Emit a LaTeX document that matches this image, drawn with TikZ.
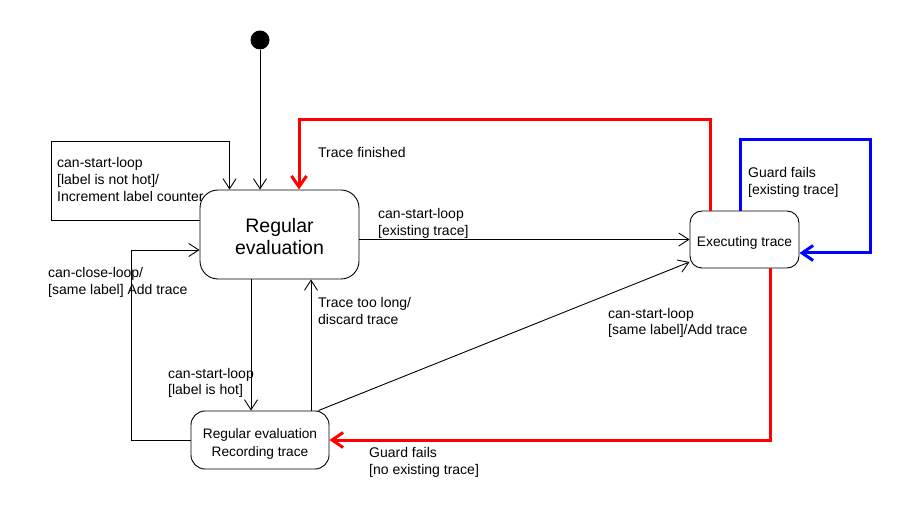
\documentclass[tikz,border=0pt]{standalone}
\usepackage{fontspec}
\setmainfont{Liberation Sans}
\usetikzlibrary{arrows.meta}
\begin{document}
\begin{tikzpicture}[x=1pt,y=-1pt,
  lbl/.style={anchor=base west, align=left, inner sep=0pt, font=\fontsize{14}{17}\selectfont},
  statebox/.style={draw, fill=white, line width=0.9pt, inner sep=0pt, align=center},
  tr/.style={line width=0.9pt, -{Straight Barb[length=10pt,width=13pt,line width=0.9pt]}},
  redtr/.style={draw=red, line width=3pt, -{Straight Barb[length=11pt,width=15pt,line width=3pt]}},
  bluetr/.style={draw=blue, line width=3pt, -{Straight Barb[length=11pt,width=15pt,line width=3pt]}}]
\useasboundingbox[fill=white] (0,0) rectangle (910,510);

% labels (positions give the baseline of the last line)
\node[lbl] (l1) at (57,202) {can-start-loop\\{[label is not hot]/}\\Increment label counter};
\node[lbl] (l2) at (318,158) {Trace finished};
\node[lbl] (l3) at (378,236) {can-start-loop\\{[existing trace]}};
\node[lbl] (l4) at (748,195) {Guard fails\\{[existing trace]}};
\node[lbl] (l5) at (48,295) {can-close-loop/\\{[same label] Add trace}};
\node[lbl] (l6) at (318,325) {Trace too long/\\discard trace};
\node[lbl] (l7) at (168,395) {can-start-loop\\{[label is hot]}};
\node[lbl] (l8) at (608,335) {can-start-loop\\{[same label]/Add trace}};
\node[lbl] (l9) at (369,474) {Guard fails\\{[no existing trace]}};

% states
\node[circle, fill=black, minimum size=19pt, inner sep=0pt] (init) at (260,40) {};
\node[statebox, rounded corners=18pt, minimum width=159pt, minimum height=89pt,
      font=\fontsize{19.5}{22}\selectfont] (regev) at (279.5,234.5) {\rule{0pt}{19pt}Regular\\evaluation};
\node[statebox, rounded corners=12pt, minimum width=109pt, minimum height=57pt,
      text height=18pt, text depth=3pt,
      font=\fontsize{13.8}{17}\selectfont] (exec) at (744.5,239.5) {Executing trace};
\node[statebox, rounded corners=14pt, minimum width=138pt, minimum height=58pt,
      font=\fontsize{13.7}{18}\selectfont] (rec) at (260,440) {\rule{0pt}{18pt}Regular evaluation\\Recording trace};

% transitions
\draw[tr] (init) -- (init |- regev.north);
\draw[tr] (regev.west |- 0,220) -- (51,220) -- (51,141) -| ([xshift=30pt]regev.north west);
\draw[tr] (regev.east |- exec.west) -- (exec.west);
\draw[tr] (regev.south -| 251,0) -- (rec.north -| 251,0);
\draw[tr] (rec.north -| 311,0) -- (regev.south -| 311,0);
\draw[tr] (rec.west) -| (131,250) -- (regev.west |- 0,250);
\draw[tr] ([xshift=-11pt]rec.north east) -- ([yshift=-22.5pt]exec.west);
\draw[redtr] ([xshift=-34.5pt]exec.north) |- (299,120) -- (regev.north -| 299,0);
\draw[bluetr] ([xshift=-4.5pt]exec.north) |- (870,140) |- ([yshift=-13.5pt]exec.east);
\draw[redtr] ([xshift=25.5pt]exec.south) |- (rec.east);
\end{tikzpicture}
\end{document}
